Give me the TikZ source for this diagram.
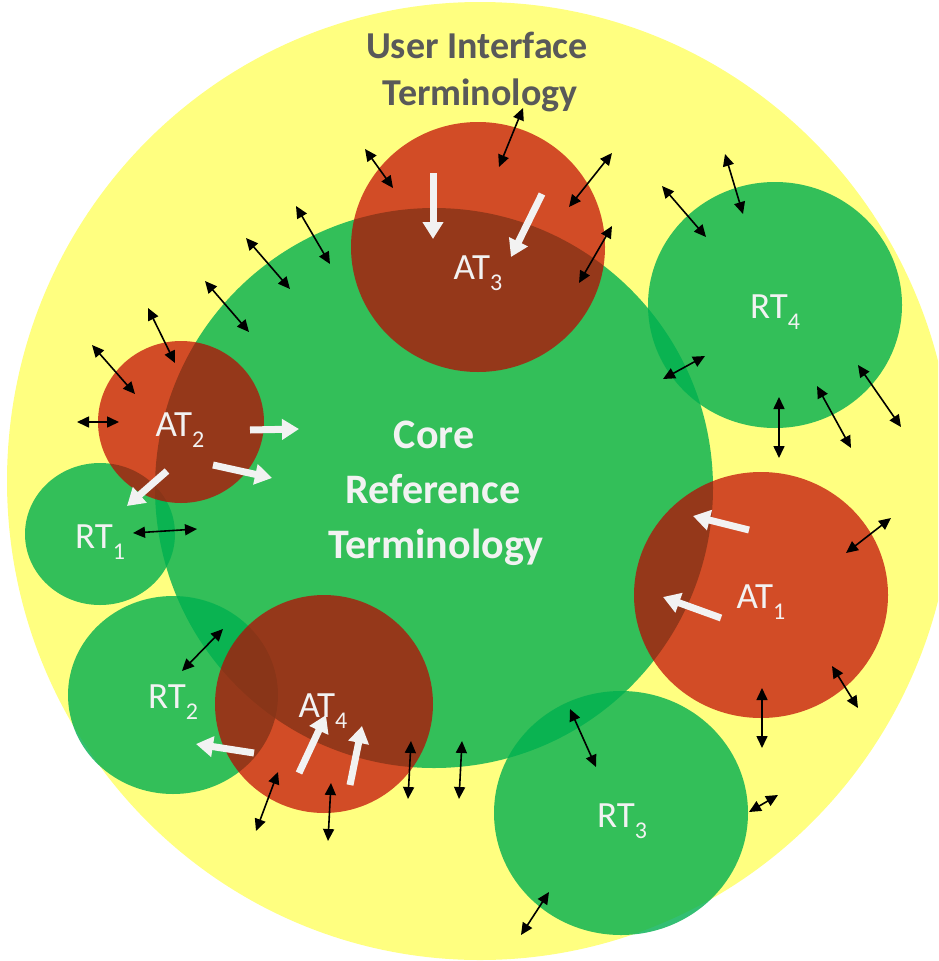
\documentclass[tikz,border=0pt]{standalone}
\usepackage{fontspec}
\setmainfont{Carlito}
\usetikzlibrary{arrows.meta}

\definecolor{uiyellow}{RGB}{255,255,128}
\definecolor{refgreen}{RGB}{0,176,80}
\definecolor{appred}{RGB}{192,0,0}
\definecolor{labelwhite}{RGB}{242,242,242}
\definecolor{titlegray}{RGB}{89,89,89}

% subscript digit of a terminology label
\newcommand\tsub[1]{\raisebox{-11pt}{\fontsize{24}{24}\selectfont #1}}

\begin{document}
\begin{tikzpicture}[x=1pt,y=-1pt,
  refterm/.style={fill=refgreen,fill opacity=0.8},
  appterm/.style={fill=appred,fill opacity=0.7},
  link/.style={draw=black,line width=1.6pt,
    {Triangle[width=11pt,length=12pt]}-{Triangle[width=11pt,length=12pt]}},
  flow/.style={draw=labelwhite,line width=7pt,-{Triangle[width=20pt,length=17pt]}},
  termlabel/.style={text=labelwhite,font=\fontsize{37}{37}\selectfont,anchor=base,inner sep=0pt},
  coretext/.style={text=labelwhite,font=\bfseries\fontsize{42}{42}\selectfont,anchor=base,inner sep=0pt},
  uitext/.style={text=titlegray,font=\bfseries\fontsize{38}{38}\selectfont,anchor=base,inner sep=0pt}]

\clip (0,0) rectangle (938,961);
\fill[white] (0,0) rectangle (938,961);

% user interface terminology
\fill[uiyellow] (480,481) ellipse [x radius=473pt, y radius=479pt];

% core reference terminology
\fill[refterm] (434,488) ellipse [x radius=279pt, y radius=280pt];

% reference terminologies
\fill[refterm] (100,534) ellipse [x radius=75pt, y radius=71pt];
\fill[refterm] (173,695) ellipse [x radius=105pt, y radius=99pt];
\fill[refterm] (621,813) ellipse [x radius=127pt, y radius=122pt];
\fill[refterm] (775,305) ellipse [x radius=127pt, y radius=123pt];

% application terminologies
\fill[appterm] (478,247) ellipse [x radius=127pt, y radius=125pt];
\fill[appterm] (181,422) ellipse [x radius=83pt, y radius=81pt];
\fill[appterm] (324,704) ellipse [x radius=109pt, y radius=109pt];
\fill[appterm] (761,595) ellipse [x radius=127pt, y radius=123pt];

% titles
\node[uitext] (ui1) at (477,58) {User Interface};
\node[uitext] (ui2) at (480,105) {Terminology};
\node[coretext] (core1) at (434,448) {Core};
\node[coretext] (core2) at (433,503) {Reference};
\node[coretext] (core3) at (436,558) {Terminology};

% labels
\node[termlabel] (at1) at (761,608) {AT\tsub{1}};
\node[termlabel] (at2) at (180,436) {AT\tsub{2}};
\node[termlabel] (at3) at (478,279) {AT\tsub{3}};
\node[termlabel] (at4) at (323,717) {AT\tsub{4}};
\node[termlabel] (rt1) at (100,548) {RT\tsub{1}};
\node[termlabel] (rt2) at (173,708) {RT\tsub{2}};
\node[termlabel] (rt3) at (622,827) {RT\tsub{3}};
\node[termlabel] (rt4) at (775,318) {RT\tsub{4}};

% mappings from application terminologies
\draw[flow] (433,173) -- (433,239);
\draw[flow] (542,194) -- (511,257);
\draw[flow] (250,430) -- (299,429);
\draw[flow] (213,465) -- (272,478);
\draw[flow] (167,471) -- (127,506);
\draw[flow] (254,753) -- (196,744);
\draw[flow] (299,773) -- (326,715);
\draw[flow] (350,785) -- (362,726);
\draw[flow] (749,530) -- (693,516);
\draw[flow] (721,618) -- (663,597);

% two-way exchanges
\draw[link] (365,149) -- (393,188);
\draw[link] (523,108) -- (499,167);
\draw[link] (612,153) -- (569,207);
\draw[link] (612,226) -- (579,283);
\draw[link] (725,154) -- (743,214);
\draw[link] (662,186) -- (706,237);
\draw[link] (663,379) -- (705,356);
\draw[link] (779,397) -- (779,458);
\draw[link] (817,386) -- (851,448);
\draw[link] (858,365) -- (901,427);
\draw[link] (891,518) -- (846,553);
\draw[link] (832,666) -- (858,708);
\draw[link] (762,688) -- (762,748);
\draw[link] (749,812) -- (778,795);
\draw[link] (549,892) -- (521,935);
\draw[link] (570,709) -- (596,767);
\draw[link] (462,741) -- (459,799);
\draw[link] (411,741) -- (408,799);
\draw[link] (331,783) -- (328,841);
\draw[link] (278,772) -- (256,831);
\draw[link] (223,629) -- (182,671);
\draw[link] (133,533) -- (197,529);
\draw[link] (77,422) -- (119,422);
\draw[link] (92,345) -- (135,394);
\draw[link] (148,308) -- (175,363);
\draw[link] (205,281) -- (249,332);
\draw[link] (246,238) -- (290,289);
\draw[link] (296,206) -- (330,264);
\end{tikzpicture}
\end{document}
